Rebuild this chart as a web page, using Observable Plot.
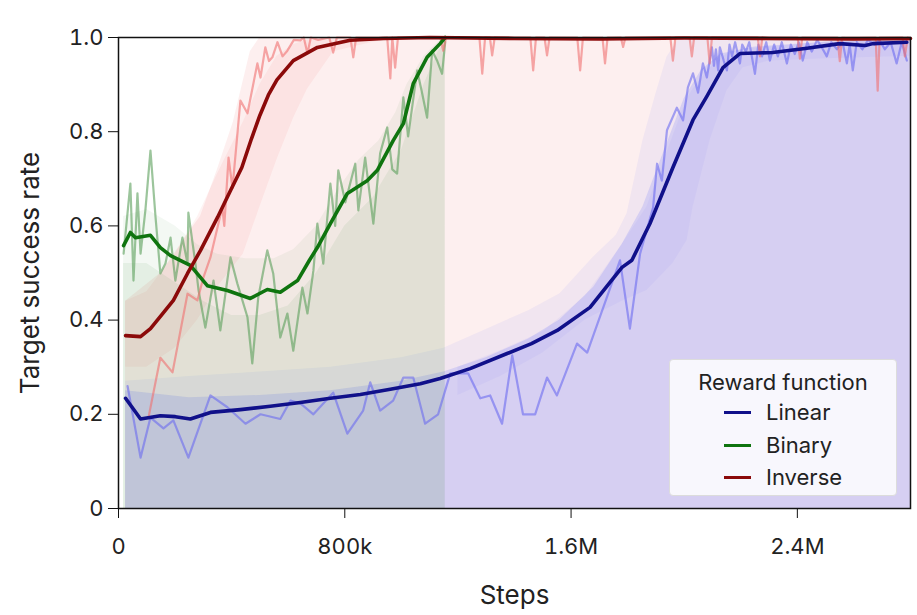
<!DOCTYPE html>
<html><head><meta charset="utf-8">
<script src="https://cdn.jsdelivr.net/npm/d3@7"></script>
<script src="https://cdn.jsdelivr.net/npm/@observablehq/plot@0.6"></script>
<style>
body{margin:0;background:#fff;}
#wrap{position:relative;width:917px;height:615px;font-family:Inter,"Open Sans",sans-serif;color:#222;}
#legend{position:absolute;left:669px;top:359px;width:228px;height:137px;box-sizing:border-box;background:rgba(255,255,255,0.82);border:1px solid #dcdcdc;border-radius:4px;}
#legend .t{position:absolute;left:0;width:100%;top:10px;text-align:center;font-size:22px;line-height:24px;}
#legend .row{position:absolute;left:0;width:100%;height:24px;}
#legend .sw{position:absolute;left:54px;top:11px;width:27px;height:3px;}
#legend .lb{position:absolute;left:96px;top:0;font-size:22px;line-height:24px;}
</style></head><body><div id="wrap"></div>
<script>
// ---------- data (steps, value) ----------
const seriesNames = ["Linear", "Binary", "Inverse"];
const meanColors = ["#10108a", "#0f740f", "#8b0a0a"];
const rawColors = ["#6a6af0", "#5a9e5a", "#f07070"];
const fillColors = ["#646efa", "#2e862e", "#e83030"];

const xTicks = [0, 800000, 1600000, 2400000];
const xTickLabels = ["0", "800k", "1.6M", "2.4M"];
const yTicks = [0, 0.2, 0.4, 0.6, 0.8, 1.0];
const yTickLabels = ["0", "0.2", "0.4", "0.6", "0.8", "1.0"];

// Linear
const linearMean = [[25e3,0.234],[78e3,0.19],[148e3,0.197],[201e3,0.195],[254e3,0.19],[325e3,0.204],[431e3,0.21],[537e3,0.217],[643e3,0.225],[749e3,0.234],[855e3,0.242],[961e3,0.253],[1067e3,0.265],[1137e3,0.276],[1243e3,0.297],[1374e3,0.329],[1460e3,0.35],[1551e3,0.378],[1667e3,0.427],[1780e3,0.512],[1815e3,0.527],[1879e3,0.605],[1960e3,0.724],[2031e3,0.825],[2080e3,0.875],[2137e3,0.936],[2197e3,0.966],[2313e3,0.968],[2434e3,0.977],[2550e3,0.987],[2640e3,0.983],[2667e3,0.987],[2787e3,0.99]];
const linearRaw = [[32e3,0.26],[78e3,0.108],[113e3,0.193],[159e3,0.17],[194e3,0.187],[247e3,0.108],[325e3,0.24],[385e3,0.215],[449e3,0.18],[502e3,0.2],[572e3,0.19],[608e3,0.229],[643e3,0.223],[689e3,0.2],[759e3,0.246],[809e3,0.159],[865e3,0.208],[890e3,0.268],[925e3,0.208],[971e3,0.229],[1007e3,0.278],[1042e3,0.278],[1084e3,0.18],[1130e3,0.2],[1173e3,0.287],[1236e3,0.287],[1279e3,0.234],[1314e3,0.24],[1356e3,0.18],[1392e3,0.325],[1430e3,0.2],[1473e3,0.2],[1515e3,0.278],[1550e3,0.24],[1621e3,0.35],[1657e3,0.331],[1773e3,0.527],[1808e3,0.382],[1844e3,0.541],[1890e3,0.639],[1904e3,0.732],[1921e3,0.696],[1939e3,0.803],[1974e3,0.851],[1996e3,0.824],[2013e3,0.894],[2031e3,0.924],[2049e3,0.883],[2066e3,0.945],[2080e3,0.915],[2098e3,0.979],[2105e3,0.94],[2112e3,0.975],[2120e3,0.93],[2126e3,0.979],[2140e3,0.95],[2151e3,0.93],[2160e3,0.985],[2169e3,0.96],[2180e3,0.99],[2197e3,0.945],[2205e3,0.985],[2218e3,0.97],[2230e3,0.99],[2250e3,0.923],[2262e3,0.985],[2275e3,0.96],[2290e3,0.99],[2303e3,0.951],[2318e3,0.985],[2331e3,0.96],[2345e3,0.99],[2363e3,0.945],[2377e3,0.985],[2391e3,0.965],[2405e3,0.99],[2419e3,0.951],[2435e3,0.99],[2451e3,0.97],[2470e3,0.995],[2490e3,0.975],[2504e3,0.96],[2520e3,0.99],[2540e3,0.975],[2560e3,0.99],[2575e3,0.945],[2585e3,0.985],[2596e3,0.93],[2610e3,0.99],[2630e3,0.975],[2650e3,0.995],[2674e3,0.985],[2690e3,0.995],[2709e3,0.975],[2730e3,0.99],[2751e3,0.945],[2769e3,0.99],[2787e3,0.951]];
const linearMax = [[25e3,0.27],[250e3,0.28],[500e3,0.29],[750e3,0.30],[1000e3,0.32],[1150e3,0.34],[1300e3,0.38],[1450e3,0.42],[1561e3,0.456],[1678e3,0.533],[1760e3,0.58],[1798e3,0.626],[1854e3,0.781],[1900e3,0.88],[1939e3,0.958],[1980e3,0.995],[2000e3,1.0],[2800e3,1.0]];
const linearHi = [[25e3,0.25],[250e3,0.235],[500e3,0.24],[750e3,0.25],[1000e3,0.27],[1150e3,0.29],[1300e3,0.32],[1450e3,0.36],[1560e3,0.40],[1680e3,0.47],[1780e3,0.56],[1854e3,0.64],[1930e3,0.76],[2000e3,0.87],[2060e3,0.93],[2130e3,0.965],[2250e3,0.98],[2500e3,0.99],[2800e3,0.995]];
const linearInner = [[1200e3,0.24,0.30],[1350e3,0.28,0.335],[1500e3,0.33,0.375],[1650e3,0.40,0.45],[1780e3,0.44,0.56],[1868e3,0.463,0.64],[1960e3,0.52,0.79],[2010e3,0.569,0.87],[2031e3,0.639,0.89],[2091e3,0.781,0.935],[2151e3,0.887,0.965],[2208e3,0.936,0.975],[2300e3,0.95,0.98],[2500e3,0.955,0.99],[2800e3,0.96,0.995]];

// Binary
const binaryMean = [[18e3,0.558],[42e3,0.586],[60e3,0.575],[113e3,0.58],[148e3,0.554],[184e3,0.537],[254e3,0.516],[314e3,0.473],[385e3,0.463],[466e3,0.446],[526e3,0.465],[572e3,0.459],[633e3,0.484],[675e3,0.527],[703e3,0.554],[749e3,0.605],[809e3,0.669],[879e3,0.696],[915e3,0.718],[971e3,0.781],[1007e3,0.817],[1042e3,0.902],[1091e3,0.958],[1137e3,0.987],[1155e3,1.0]];
const binaryRaw = [[18e3,0.541],[42e3,0.69],[53e3,0.484],[67e3,0.669],[78e3,0.541],[95e3,0.633],[113e3,0.76],[131e3,0.618],[148e3,0.499],[166e3,0.52],[184e3,0.575],[201e3,0.484],[226e3,0.575],[244e3,0.52],[247e3,0.628],[272e3,0.52],[283e3,0.463],[307e3,0.384],[336e3,0.484],[360e3,0.378],[396e3,0.533],[420e3,0.478],[456e3,0.406],[473e3,0.308],[494e3,0.448],[526e3,0.548],[547e3,0.499],[572e3,0.363],[597e3,0.414],[618e3,0.335],[650e3,0.469],[668e3,0.414],[689e3,0.505],[703e3,0.605],[724e3,0.52],[749e3,0.69],[766e3,0.6],[777e3,0.718],[802e3,0.65],[837e3,0.732],[848e3,0.633],[872e3,0.745],[901e3,0.605],[925e3,0.754],[950e3,0.809],[968e3,0.72],[985e3,0.711],[1007e3,0.873],[1024e3,0.79],[1056e3,0.93],[1074e3,0.88],[1091e3,0.83],[1109e3,0.972],[1127e3,0.95],[1144e3,0.923],[1155e3,0.99]];
const binaryMax = [[18e3,0.62],[100e3,0.635],[200e3,0.6],[280e3,0.56],[350e3,0.54],[450e3,0.53],[550e3,0.53],[620e3,0.55],[700e3,0.6],[780e3,0.68],[850e3,0.74],[920e3,0.78],[980e3,0.84],[1020e3,0.9],[1080e3,0.96],[1130e3,0.99],[1155e3,1.0]];
const binaryHi = [[18e3,0.52],[100e3,0.52],[200e3,0.48],[300e3,0.44],[400e3,0.41],[500e3,0.41],[600e3,0.43],[700e3,0.5],[800e3,0.6],[900e3,0.66],[1000e3,0.76],[1080e3,0.9],[1130e3,0.97],[1155e3,0.99]];

// Inverse
const inverseMean = [[25e3,0.367],[78e3,0.365],[113e3,0.382],[159e3,0.416],[194e3,0.442],[244e3,0.499],[290e3,0.548],[350e3,0.618],[396e3,0.675],[436e3,0.724],[470e3,0.785],[500e3,0.835],[530e3,0.878],[560e3,0.91],[618e3,0.951],[703e3,0.979],[819e3,0.994],[936e3,0.998],[1100e3,1.0],[1400e3,0.998],[1700e3,0.997],[2000e3,0.999],[2300e3,0.998],[2600e3,0.997],[2800e3,0.998]];
const inverseRaw = [[106e3,0.193],[148e3,0.32],[191e3,0.289],[244e3,0.456],[279e3,0.442],[300e3,0.49],[325e3,0.533],[367e3,0.64],[374e3,0.60],[389e3,0.745],[403e3,0.68],[431e3,0.866],[456e3,0.839],[491e3,0.945],[502e3,0.915],[519e3,0.979],[532e3,0.95],[544e3,0.958],[562e3,0.99],[580e3,0.96],[597e3,0.972],[620e3,0.995],[643e3,0.994],[655e3,1.0],[668e3,0.966],[680e3,1.0],[706e3,0.995],[745e3,1.0],[759e3,0.968],[772e3,1.0],[820e3,1.0],[830e3,0.958],[840e3,1.0],[950e3,1.0],[961e3,0.913],[968e3,1.0],[978e3,0.936],[988e3,1.0],[1138e3,1.0],[1148e3,0.972],[1158e3,1.0],[1276e3,1.0],[1286e3,0.923],[1296e3,1.0],[1313e3,1.0],[1321e3,0.962],[1330e3,1.0],[1456e3,1.0],[1466e3,0.93],[1476e3,1.0],[1506e3,1.0],[1515e3,0.962],[1524e3,1.0],[1622e3,1.0],[1632e3,0.93],[1642e3,1.0],[1711e3,1.0],[1720e3,0.945],[1729e3,1.0],[1776e3,1.0],[1784e3,0.98],[1792e3,1.0],[1951e3,1.0],[1960e3,0.951],[1969e3,1.0],[2019e3,1.0],[2027e3,0.96],[2035e3,1.0],[2082e3,1.0],[2090e3,0.945],[2098e3,1.0],[2260e3,1.0],[2268e3,0.96],[2276e3,1.0],[2401e3,1.0],[2409e3,0.955],[2417e3,1.0],[2542e3,1.0],[2550e3,0.95],[2558e3,1.0],[2677e3,1.0],[2684e3,0.887],[2691e3,1.0],[2772e3,1.0],[2780e3,0.96],[2790e3,1.0]];
const inverseMax = [[25e3,0.44],[150e3,0.5],[254e3,0.59],[290e3,0.62],[350e3,0.72],[406e3,0.82],[466e3,0.97],[500e3,1.0],[2800e3,1.0]];
const inverseInner = [[25e3,0.30,0.44],[100e3,0.30,0.46],[200e3,0.34,0.54],[280e3,0.40,0.62],[350e3,0.47,0.71],[441e3,0.54,0.82],[500e3,0.64,0.9],[560e3,0.74,0.96],[620e3,0.83,0.985],[668e3,0.89,0.995],[760e3,0.97,1.0],[900e3,0.99,1.0],[1000e3,1.0,1.0]];

// ---------- build ----------
const P = a => a.map(([x, y]) => ({x, y}));
const B = a => a.map(([x, lo, hi]) => ({x, lo, hi}));
const fmtX = d => xTickLabels[xTicks.indexOf(d)];
const fmtY = d => yTickLabels[yTicks.indexOf(d)];
const [cL, cB, cI] = fillColors;

const chart = Plot.plot({
  width: 917, height: 615,
  marginLeft: 118, marginRight: 7, marginTop: 37, marginBottom: 107,
  style: {fontFamily: "Inter, 'Open Sans', sans-serif", fontSize: "22px", color: "#222", background: "transparent", overflow: "visible"},
  x: {domain: [0, 2800000]},
  y: {domain: [0, 1]},
  marks: [
    // fills
    Plot.areaY(P(inverseMax), {x: "x", y1: 0, y2: "y", fill: cI, fillOpacity: 0.08}),
    Plot.areaY(B(inverseInner), {x: "x", y1: "lo", y2: "hi", fill: cI, fillOpacity: 0.06}),
    Plot.areaY(P(linearMax), {x: "x", y1: 0, y2: "y", fill: cL, fillOpacity: 0.08}),
    Plot.areaY(P(linearHi), {x: "x", y1: 0, y2: "y", fill: cL, fillOpacity: 0.19}),
    Plot.areaY(B(linearInner), {x: "x", y1: "lo", y2: "hi", fill: cL, fillOpacity: 0.06}),
    Plot.areaY(P(binaryMax), {x: "x", y1: 0, y2: "y", fill: cB, fillOpacity: 0.06}),
    Plot.areaY(P(binaryHi), {x: "x", y1: 0, y2: "y", fill: cB, fillOpacity: 0.08}),
    // raw curves
    Plot.lineY(P(linearRaw), {x: "x", y: "y", stroke: rawColors[0], strokeWidth: 2.2, strokeOpacity: 0.6}),
    Plot.lineY(P(binaryRaw), {x: "x", y: "y", stroke: rawColors[1], strokeWidth: 2.2, strokeOpacity: 0.6}),
    Plot.lineY(P(inverseRaw), {x: "x", y: "y", stroke: rawColors[2], strokeWidth: 2.2, strokeOpacity: 0.6}),
    // smoothed means
    Plot.lineY(P(linearMean), {x: "x", y: "y", stroke: meanColors[0], strokeWidth: 3.6, strokeLinejoin: "round"}),
    Plot.lineY(P(binaryMean), {x: "x", y: "y", stroke: meanColors[1], strokeWidth: 3.6, strokeLinejoin: "round"}),
    Plot.lineY(P(inverseMean), {x: "x", y: "y", stroke: meanColors[2], strokeWidth: 3.6, strokeLinejoin: "round"}),
    // axes
    Plot.axisX({ticks: xTicks, tickFormat: fmtX, tickSize: 10, tickPadding: 20, fontSize: 22, label: null, stroke: "#111"}),
    Plot.axisY({ticks: yTicks, tickFormat: fmtY, tickSize: 10, tickPadding: 5, fontSize: 22, label: null, stroke: "#111"}),
    Plot.text(["Steps"], {frameAnchor: "bottom", textAnchor: "middle", dy: 95, fontSize: 26, fill: "#222"}),
    Plot.text(["Target success rate"], {frameAnchor: "left", textAnchor: "middle", rotate: -90, dx: -88, fontSize: 26, fill: "#222"}),
    Plot.frame({stroke: "#111", strokeWidth: 1.5})
  ]
});

const wrap = document.getElementById("wrap");
wrap.appendChild(chart);

// legend
const leg = document.createElement("div");
leg.id = "legend";
const t = document.createElement("div");
t.className = "t"; t.textContent = "Reward function";
leg.appendChild(t);
seriesNames.forEach((name, i) => {
  const row = document.createElement("div");
  row.className = "row";
  row.style.top = (40 + i * 32.5) + "px";
  const sw = document.createElement("div");
  sw.className = "sw"; sw.style.background = meanColors[i];
  const lb = document.createElement("div");
  lb.className = "lb"; lb.textContent = name;
  row.appendChild(sw); row.appendChild(lb);
  leg.appendChild(row);
});
wrap.appendChild(leg);
</script></body></html>
